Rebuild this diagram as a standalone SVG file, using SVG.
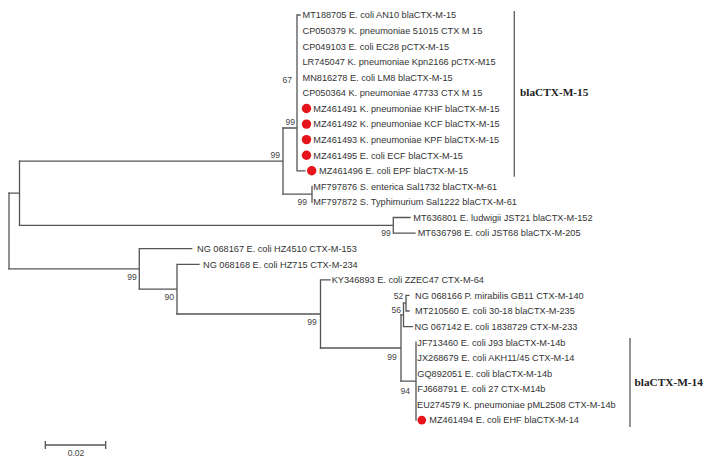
<svg xmlns="http://www.w3.org/2000/svg" width="708" height="466" viewBox="0 0 708 466">
<style>
.br{stroke:#555;stroke-width:1.3;fill:none;stroke-linecap:square}
.lf{font-family:"Liberation Sans",Arial,sans-serif;font-size:9.2px;fill:#333}
.bs{font-family:"Liberation Sans",Arial,sans-serif;font-size:8.6px;fill:#444;text-anchor:end}
.dot{fill:#e8141c}
.cl{font-family:"Liberation Serif","Times New Roman",serif;font-size:11.3px;font-weight:bold;fill:#222}
.bar{stroke:#666;stroke-width:1.4}
</style>
<rect width="708" height="466" fill="#fff"/>
<g id="connectors" class="br">
<path d="M9,193.2V268.9"/>
<path d="M9,193.2H19.5M19.5,161.1V225.3"/>
<path d="M19.5,161.1H283M283,128V194.2"/>
<path d="M283,128H297M297,15V170.8M297,15H300M297,170.8H305"/>
<path d="M283,194.2H312M312,186.4V202"/>
<path d="M19.5,225.3H393.3M393.3,217.5V233.1M393.3,217.5H410M393.3,233.1H415"/>
<path d="M9,268.9H139.3M139.3,248.7V289.1M139.3,248.7H191.7"/>
<path d="M139.3,289.1H177M177,264.3V314M177,264.3H199"/>
<path d="M177,314H320.5M320.5,279.9V348M320.5,279.9H330"/>
<path d="M320.5,348H401M401,314.9V381.2"/>
<path d="M401,314.9H403.5M403.5,303.2V326.6M403.5,326.6H412.5"/>
<path d="M403.5,303.2H406M406,295.4V311M406,295.4H409M406,311H409"/>
<path d="M401,381.2H416M416,342.2V420.1"/>
</g>
<g id="bootstrap">
<text class="bs" x="280" y="158">99</text>
<text class="bs" x="295" y="125">99</text>
<text class="bs" x="292" y="83">67</text>
<text class="bs" x="307" y="205">99</text>
<text class="bs" x="390.7" y="236">99</text>
<text class="bs" x="136.7" y="280">99</text>
<text class="bs" x="174" y="300">90</text>
<text class="bs" x="316.7" y="325">99</text>
<text class="bs" x="403.3" y="298.5">52</text>
<text class="bs" x="401" y="313">56</text>
<text class="bs" x="396.7" y="359.5">99</text>
<text class="bs" x="410" y="394">94</text>
</g>
<g id="leaf1"><text class="lf" x="302.5" y="18.3">MT188705 E. coli AN10 blaCTX-M-15</text></g>
<g id="leaf2"><text class="lf" x="302.5" y="33.9">CP050379 K. pneumoniae 51015 CTX M 15</text></g>
<g id="leaf3"><text class="lf" x="302.5" y="49.5">CP049103 E. coli EC28 pCTX-M-15</text></g>
<g id="leaf4"><text class="lf" x="302.5" y="65">LR745047 K. pneumoniae Kpn2166 pCTX-M15</text></g>
<g id="leaf5"><text class="lf" x="302.5" y="80.6">MN816278 E. coli LM8 blaCTX-M-15</text></g>
<g id="leaf6"><text class="lf" x="302.5" y="96.2">CP050364 K. pneumoniae 47733 CTX M 15</text></g>
<g id="leaf7"><circle class="dot" cx="306.5" cy="108.5" r="4.7"/><text class="lf" x="313.3" y="111.8">MZ461491 K. pneumoniae KHF blaCTX-M-15</text></g>
<g id="leaf8"><circle class="dot" cx="306.5" cy="124.1" r="4.7"/><text class="lf" x="313.3" y="127.4">MZ461492 K. pneumoniae KCF blaCTX-M-15</text></g>
<g id="leaf9"><circle class="dot" cx="306.5" cy="139.6" r="4.7"/><text class="lf" x="313.3" y="142.9">MZ461493 K. pneumoniae KPF blaCTX-M-15</text></g>
<g id="leaf10"><circle class="dot" cx="306.5" cy="155.2" r="4.7"/><text class="lf" x="313.3" y="158.5">MZ461495 E. coli ECF blaCTX-M-15</text></g>
<g id="leaf11"><circle class="dot" cx="311.7" cy="170.8" r="4.7"/><text class="lf" x="319" y="174.1">MZ461496 E. coli EPF blaCTX-M-15</text></g>
<g id="leaf12"><text class="lf" x="313.3" y="189.7">MF797876 S. enterica Sal1732 blaCTX-M-61</text></g>
<g id="leaf13"><text class="lf" x="313.3" y="205.3">MF797872 S. Typhimurium Sal1222 blaCTX-M-61</text></g>
<g id="leaf14"><text class="lf" x="413.3" y="220.8">MT636801 E. ludwigii JST21 blaCTX-M-152</text></g>
<g id="leaf15"><text class="lf" x="417.7" y="236.4">MT636798 E. coli JST68 blaCTX-M-205</text></g>
<g id="leaf16"><text class="lf" x="197" y="252">NG 068167 E. coli HZ4510 CTX-M-153</text></g>
<g id="leaf17"><text class="lf" x="203" y="267.6">NG 068168 E. coli HZ715 CTX-M-234</text></g>
<g id="leaf18"><text class="lf" x="331.7" y="283.2">KY346893 E. coli ZZEC47 CTX-M-64</text></g>
<g id="leaf19"><text class="lf" x="415" y="298.7">NG 068166 P. mirabilis GB11 CTX-M-140</text></g>
<g id="leaf20"><text class="lf" x="415" y="314.3">MT210560 E. coli 30-18 blaCTX-M-235</text></g>
<g id="leaf21"><text class="lf" x="414.5" y="329.9">NG 067142 E. coli 1838729 CTX-M-233</text></g>
<g id="leaf22"><text class="lf" x="417.3" y="345.5">JF713460 E. coli J93 blaCTX-M-14b</text></g>
<g id="leaf23"><text class="lf" x="417.3" y="361.1">JX268679 E. coli AKH11/45 CTX-M-14</text></g>
<g id="leaf24"><text class="lf" x="417.3" y="376.6">GQ892051 E. coli blaCTX-M-14b</text></g>
<g id="leaf25"><text class="lf" x="417.3" y="392.2">FJ668791 E. coli 27 CTX-M14b</text></g>
<g id="leaf26"><text class="lf" x="417" y="407.8">EU274579 K. pneumoniae pML2508 CTX-M-14b</text></g>
<g id="leaf27"><circle class="dot" cx="421.8" cy="420.1" r="4.3"/><text class="lf" x="429.3" y="423.4">MZ461494 E. coli EHF blaCTX-M-14</text></g>
<g id="clade15"><line class="bar" x1="514.3" y1="11" x2="514.3" y2="176.7"/><text class="cl" x="520" y="95.5">blaCTX-M-15</text></g>
<g id="clade14"><line class="bar" x1="630" y1="338" x2="630" y2="427"/><text class="cl" x="634.5" y="385.8">blaCTX-M-14</text></g>
<g id="scalebar"><path class="br" d="M45.3,445H105.7M45.3,441.7V448.3M105.7,441.7V448.3"/><text class="bs" x="76" y="456" style="text-anchor:middle">0.02</text></g>
</svg>
